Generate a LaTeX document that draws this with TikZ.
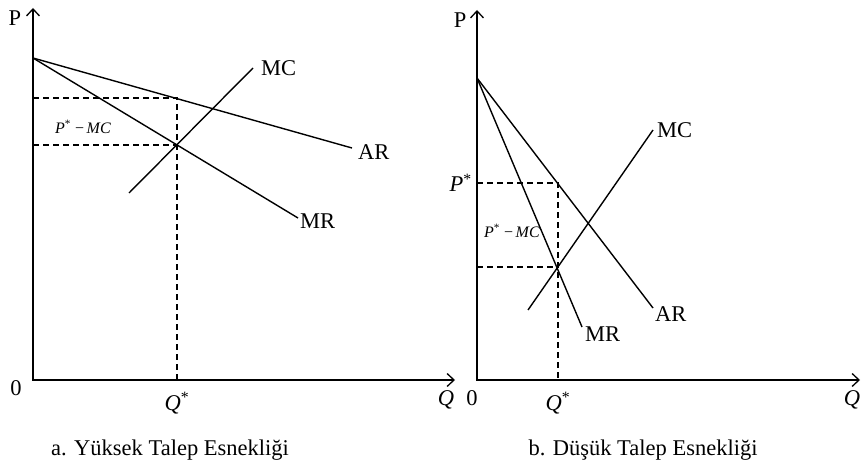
\documentclass[tikz,border=0pt]{standalone}
\usepackage{fontspec}
\setmainfont{Liberation Serif}
\usepackage{tikz}
\usetikzlibrary{arrows.meta, positioning, calc}

\newcommand{\pstarmc}{\textit{P}\textsuperscript{*}\ −\,\textit{MC}}

\begin{document}
\begin{tikzpicture}[
    x=1pt, y=-1pt,
    axis/.style={line width=1.8pt, line join=miter,
        {Straight Barb[length=7pt, width=13pt, line width=1.3pt]}-{Straight Barb[length=7pt, width=13pt, line width=1.3pt]}},
    curve/.style={line width=1.4pt},
    guide/.style={line width=1.2pt, dash pattern=on 6pt off 4pt},
    lbl/.style={font=\fontsize{22.5}{24}\selectfont, inner sep=0pt},
    small/.style={font=\fontsize{16}{18}\selectfont, inner sep=0pt},
    caption/.style={font=\fontsize{22.5}{24}\selectfont, inner sep=0pt}
]
\useasboundingbox (0,0) rectangle (861,473);
% a. high elasticity
\coordinate (o1) at (33,380);
\coordinate (ytip1) at (33,8);
\coordinate (xtip1) at (455,380);
\coordinate (a1) at (33,58);
\coordinate (ar1) at (352,148);
\coordinate (mr1) at (298,218);
\coordinate (mcLow1) at (129,193);
\coordinate (mcHigh1) at (253,68);
\coordinate (eq1) at (177,145);
\coordinate (pstar1) at (177,98);
\coordinate (qstar1) at (177,380);
\draw[axis] (ytip1) -- (o1) -- (xtip1);
\draw[curve] (a1) -- (ar1);
\draw[curve] (a1) -- (mr1);
\draw[curve] (mcLow1) -- (mcHigh1);
\draw[guide] (o1 |- pstar1) -- (pstar1) -- (qstar1);
\draw[guide] (o1 |- eq1) -- (eq1);
\node[lbl] (pAxis1) at (15,18) {P};
\node[lbl] (qAxis1) at (446,400) {\textit{Q}};
\node[lbl] (zero1) at (16,388) {0};
\node[lbl, anchor=west] (mcText1) at ($(mcHigh1)+(8,0)$) {MC};
\node[lbl, anchor=west] (arText1) at ($(ar1)+(6,4)$) {AR};
\node[lbl, anchor=west] (mrText1) at ($(mr1)+(2,3)$) {MR};
\node[small] (gap1) at (83,127) {\pstarmc};
\node[lbl] (qText1) at (177,403) {\textit{Q}\textsuperscript{*}};
\node[caption] (capA) at (170,450) {a. Yüksek Talep Esnekliği};
% b. low elasticity
\coordinate (o2) at (477,380);
\coordinate (ytip2) at (477,10);
\coordinate (xtip2) at (860,380);
\coordinate (a2) at (477,78);
\coordinate (ar2) at (653,308);
\coordinate (mr2) at (582,327);
\coordinate (mcLow2) at (528,310);
\coordinate (mcHigh2) at (653,130);
\coordinate (eq2) at (558,267);
\coordinate (pstar2) at (558,183);
\coordinate (qstar2) at (558,380);
\draw[axis] (ytip2) -- (o2) -- (xtip2);
\draw[curve] (a2) -- (ar2);
\draw[curve] (a2) -- (mr2);
\draw[curve] (mcLow2) -- (mcHigh2);
\draw[guide] (o2 |- pstar2) -- (pstar2) -- (qstar2);
\draw[guide] (o2 |- eq2) -- (eq2);
\node[lbl] (pAxis2) at (460,20) {P};
\node[lbl] (qAxis2) at (852,400) {\textit{Q}};
\node[lbl] (zero2) at (472,398) {0};
\node[lbl, anchor=east] (pText2) at (472,183) {\textit{P}\textsuperscript{*}};
\node[lbl, anchor=west] (mcText2) at ($(mcHigh2)+(4,0)$) {MC};
\node[lbl, anchor=west] (arText2) at ($(ar2)+(2,6)$) {AR};
\node[lbl, anchor=west] (mrText2) at ($(mr2)+(3,7)$) {MR};
\node[small] (gap2) at (512,231) {\pstarmc};
\node[lbl] (qText2) at (558,403) {\textit{Q}\textsuperscript{*}};
\node[caption] (capB) at (643,450) {b. Düşük Talep Esnekliği};
\end{tikzpicture}
\end{document}
